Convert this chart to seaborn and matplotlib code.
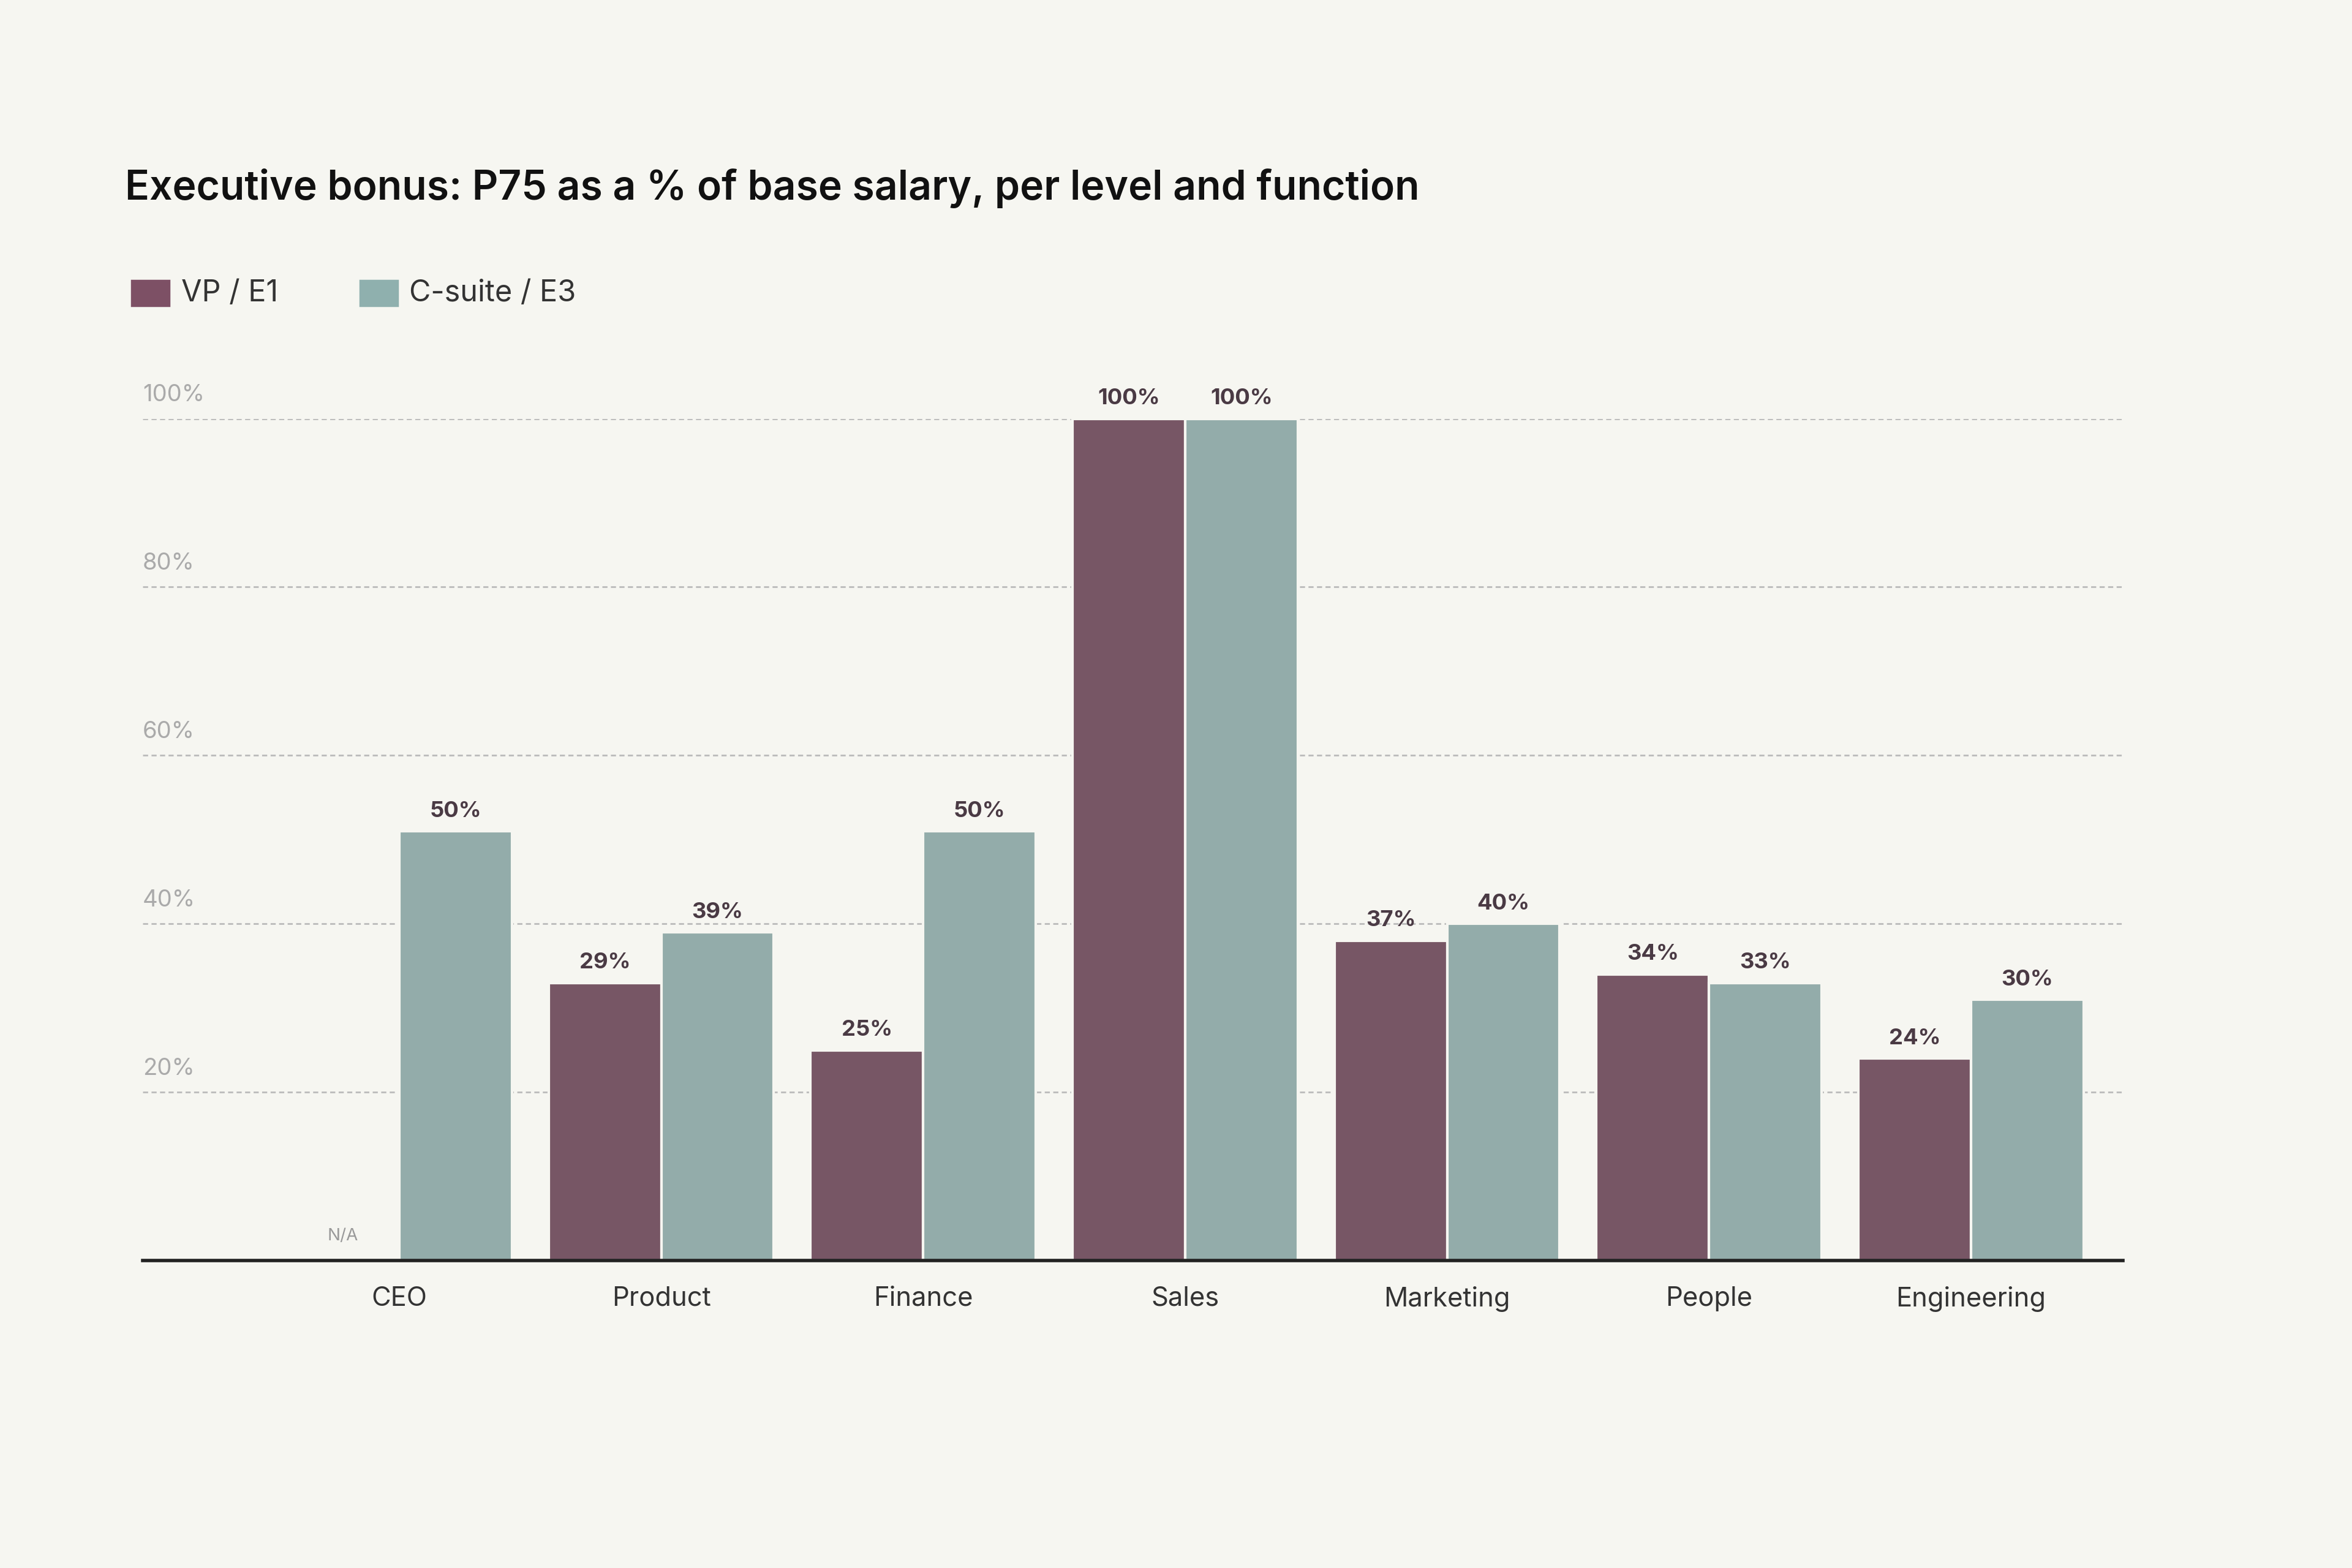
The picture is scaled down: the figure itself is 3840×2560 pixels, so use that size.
import matplotlib.pyplot as plt
import seaborn as sns
import pandas as pd

# Data
functions = ["CEO", "Product", "Finance", "Sales", "Marketing", "People", "Engineering"]
vp_values = [0, 33, 25, 100, 38, 34, 24]
csuite_values = [51, 39, 51, 100, 40, 33, 31]
vp_labels = ["N/A", "29%", "25%", "100%", "37%", "34%", "24%"]
csuite_labels = ["50%", "39%", "50%", "100%", "40%", "33%", "30%"]
series = ["VP / E1", "C-suite / E3"]
y_ticks = [20, 40, 60, 80, 100]

df = pd.DataFrame({
    "Function": functions * 2,
    "Level": [series[0]] * len(functions) + [series[1]] * len(functions),
    "Value": vp_values + csuite_values,
})

bg = "#f6f6f1"
colors = {"VP / E1": "#7d5065", "C-suite / E3": "#8fb0ae"}

sns.set_theme(style="white")
plt.rcParams["font.family"] = ["Inter", "DejaVu Sans"]

fig = plt.figure(figsize=(15.36, 10.24), dpi=250, facecolor=bg)
ax = fig.add_axes([0.0606, 0.196, 0.842, 0.537], facecolor=bg)

sns.barplot(data=df, x="Function", y="Value", hue="Level", palette=colors,
            width=0.86, edgecolor=bg, linewidth=1.2, legend=False, ax=ax)

ax.set_xlim(-0.98, 6.58)
ax.set_ylim(0, 100)

for y in y_ticks:
    ax.axhline(y, color="#bbbbbb", linestyle=(0, (3, 2)), linewidth=0.8, zorder=0)
    ax.text(-0.98, y + 1.5, f"{y}%", fontsize=11, color="#aaaaaa", ha="left", va="bottom")

for container, labels, vals in zip(ax.containers, [vp_labels, csuite_labels], [vp_values, csuite_values]):
    for bar, lab, v in zip(container, labels, vals):
        cx = bar.get_x() + bar.get_width() / 2
        if lab == "N/A":
            ax.text(cx, 2, lab, ha="center", va="bottom", fontsize=8, color="#999999")
        else:
            ax.text(cx, v + 1.2, lab, ha="center", va="bottom", fontsize=10.5,
                    fontweight="bold", color="#4a3a44", clip_on=False)

for s in ["top", "right", "left"]:
    ax.spines[s].set_visible(False)
ax.spines["bottom"].set_color("#222222")
ax.spines["bottom"].set_linewidth(1.6)
ax.set_yticks([])
ax.tick_params(axis="x", length=0, pad=12, labelsize=12.5, labelcolor="#333333")
ax.set_xlabel("")
ax.set_ylabel("")

fig.text(0.053, 0.88, "Executive bonus: P75 as a % of base salary, per level and function",
         fontsize=19, fontweight="semibold", color="#111111", va="center")

# legend
for i, (name, xpos) in enumerate(zip(series, [0.056, 0.153])):
    fig.patches.append(plt.Rectangle((xpos, 0.805), 0.016, 0.016, transform=fig.transFigure,
                                     color=colors[name]))
    fig.text(xpos + 0.021, 0.813, name, fontsize=14, color="#333333", va="center")

fig.savefig("out.png", dpi=250, facecolor=bg)
